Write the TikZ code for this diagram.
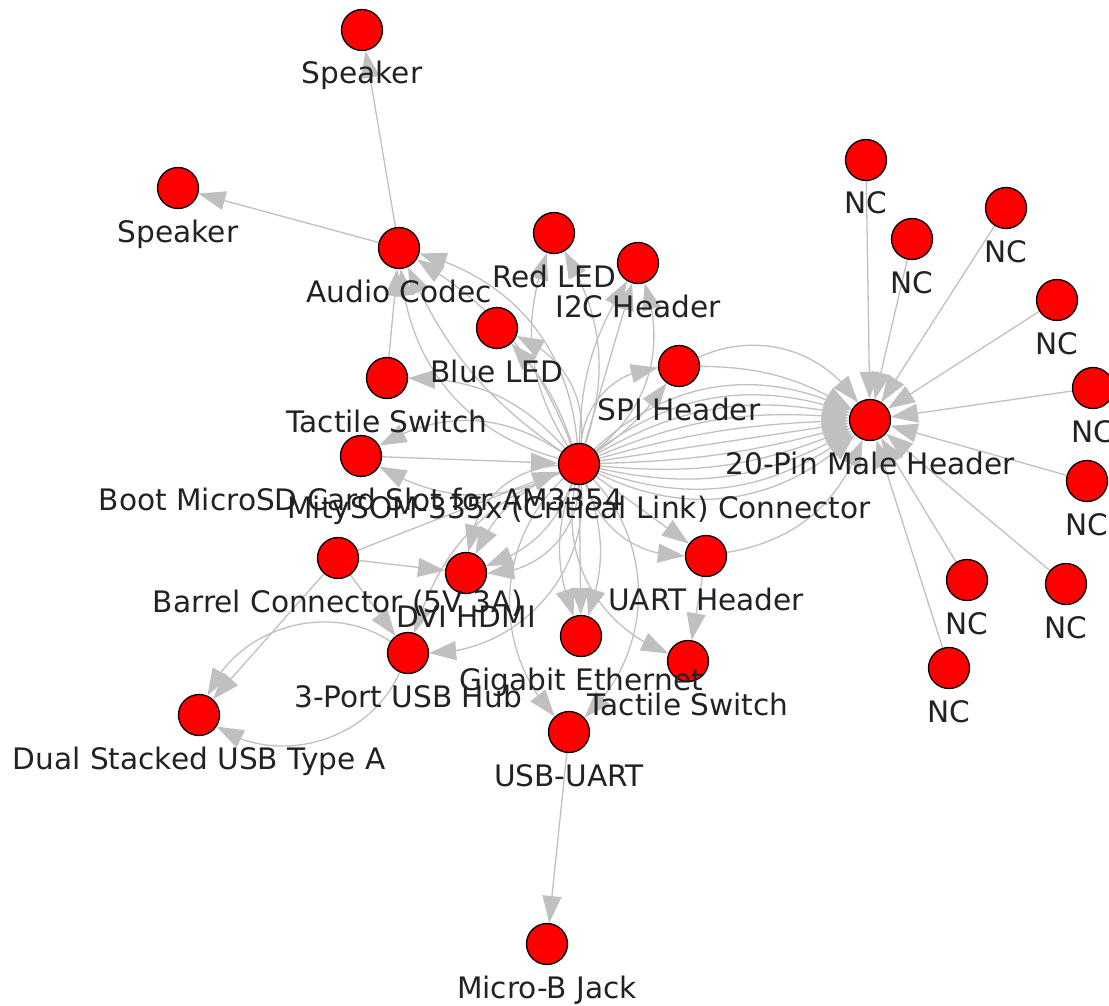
\documentclass[tikz,border=0pt]{standalone}
\usepackage{fontspec}
\setmainfont{DejaVu Sans}
\usetikzlibrary{arrows.meta,bending,calc}
\pgfdeclarelayer{bg}
\pgfsetlayers{bg,main}
\definecolor{edgegray}{RGB}{192,192,192}
\definecolor{txtgray}{RGB}{34,34,34}
\begin{document}
\begin{tikzpicture}[x=1pt,y=-1pt,
  vtx/.style={circle,draw=black,fill=red,line width=1.3pt,minimum size=41pt,inner sep=0pt},
  lbl/.style={font=\fontsize{29.6}{35}\selectfont,text=txtgray,inner sep=0pt,anchor=base},
  lnk/.style={draw=edgegray,line width=1.3pt,-{Triangle[length=27pt,width=19pt]}},
  ]
\useasboundingbox (0,0) rectangle (1109,1006);
% nodes
\node[vtx] (SpkT) at (362,30) {};
\node[vtx] (SpkL) at (178,188) {};
\node[vtx] (AC) at (399,248) {};
\node[vtx] (RL) at (554,233) {};
\node[vtx] (I2C) at (638,263) {};
\node[vtx] (BL) at (497,328) {};
\node[vtx] (TS1) at (387,378) {};
\node[vtx] (SPI) at (679,366) {};
\node[vtx] (Boot) at (361,456) {};
\node[vtx] (M) at (579,464) {};
\node[vtx] (P20) at (870,420) {};
\node[vtx] (Bar) at (338,558) {};
\node[vtx] (DVI) at (466,573) {};
\node[vtx] (UART) at (706,556) {};
\node[vtx] (Gig) at (581,636) {};
\node[vtx] (TS2) at (688,661) {};
\node[vtx] (Hub) at (408,653) {};
\node[vtx] (Dual) at (199,715) {};
\node[vtx] (UU) at (569,732) {};
\node[vtx] (MB) at (547,944) {};
\node[vtx] (NC1) at (866,160) {};
\node[vtx] (NC2) at (912,239) {};
\node[vtx] (NC3) at (1006,208) {};
\node[vtx] (NC4) at (1057,300) {};
\node[vtx] (NC5) at (1093,388) {};
\node[vtx] (NC6) at (1087,481) {};
\node[vtx] (NC7) at (967,580) {};
\node[vtx] (NC8) at (1066,584) {};
\node[vtx] (NC9) at (949,668) {};
% edges
\begin{pgfonlayer}{bg}
\draw[lnk] (AC) -- (SpkT);
\draw[lnk] (AC) -- (SpkL);
\draw[lnk] (TS1) -- (AC);
\draw[lnk] (M) to[bend right=35] (AC);
\draw[lnk] (M) to[bend right=18] (AC);
\draw[lnk] (M) to[bend left=15] (AC);
\draw[lnk] (M) to[bend left=35] (AC);
\draw[lnk] (M) to[bend right=24] (RL);
\draw[lnk] (M) to[bend left=26] (RL);
\draw[lnk] (M) to[bend left=15] (I2C);
\draw[lnk] (M) to (I2C);
\draw[lnk] (M) to[bend right=35] (I2C);
\draw[lnk] (M) to[bend right=37] (BL);
\draw[lnk] (M) to[bend right=12] (BL);
\draw[lnk] (M) to[bend right=24] (TS1);
\draw[lnk] (M) to[bend right=32] (Boot);
\draw[lnk] (M) to[bend left=28] (Boot);
\draw[lnk] (Boot) -- (M);
\draw[lnk] (M) to[bend left=40] (SPI);
\draw[lnk] (M) to[bend right=10] (SPI);
\draw[lnk] (M) to (P20);
\draw[lnk] (M) to[bend left=7] (P20);
\draw[lnk] (M) to[bend left=14] (P20);
\draw[lnk] (M) to[bend left=21] (P20);
\draw[lnk] (M) to[bend left=28] (P20);
\draw[lnk] (M) to[bend left=35] (P20);
\draw[lnk] (M) to[bend right=7] (P20);
\draw[lnk] (M) to[bend right=14] (P20);
\draw[lnk] (M) to[bend right=21] (P20);
\draw[lnk] (M) to[bend right=28] (P20);
\draw[lnk] (M) to[bend right=35] (P20);
\draw[lnk] (SPI) to[bend left=40] (P20);
\draw[lnk] (SPI) to[bend left=15] (P20);
\draw[lnk] (UART) to[bend right=30] (P20);
\draw[lnk] (M) -- (UART);
\draw[lnk] (M) to[bend right=36] (UART);
\draw[lnk] (UART) -- (TS2);
\draw[lnk] (M) to[bend right=40] (TS2);
\draw[lnk] (M) to[bend right=20] (Gig);
\draw[lnk] (M) -- (Gig);
\draw[lnk] (M) to[bend left=20] (Gig);
\draw[lnk] (M) to[bend right=45] (UU);
\draw[lnk] (M) to[bend left=45] (UU);
\draw[lnk] (M) to[bend right=40] (DVI);
\draw[lnk] (M) to[bend right=20] (DVI);
\draw[lnk] (M) to[bend left=25] (DVI);
\draw[lnk] (M) to[bend left=45] (DVI);
\draw[lnk] (M) to[bend left=48] (Hub);
\draw[lnk] (M) to[bend right=25] (Hub);
\draw[lnk] (Bar) -- (M);
\draw[lnk] (Bar) -- (DVI);
\draw[lnk] (Bar) -- (Hub);
\draw[lnk] (Bar) -- (Dual);
\draw[lnk] (Hub) to[bend left=50] (Dual);
\draw[lnk] (Hub) to[bend right=50] (Dual);
\draw[lnk] (UU) -- (MB);
\foreach \n in {NC1,NC2,NC3,NC4,NC5,NC6,NC7,NC8,NC9}
  \draw[lnk] (\n) -- (P20);
\end{pgfonlayer}
% labels
\node[lbl] (lSpkT) at ($(SpkT)+(0,54)$) {Speaker};
\node[lbl] (lSpkL) at ($(SpkL)+(0,54)$) {Speaker};
\node[lbl] (lAC) at ($(AC)+(0,54)$) {Audio Codec};
\node[lbl] (lRL) at ($(RL)+(0,54)$) {Red LED};
\node[lbl] (lI2C) at ($(I2C)+(0,54)$) {I2C Header};
\node[lbl] (lBL) at ($(BL)+(0,54)$) {Blue LED};
\node[lbl] (lTS1) at ($(TS1)+(0,54)$) {Tactile Switch};
\node[lbl] (lSPI) at ($(SPI)+(0,54)$) {SPI Header};
\node[lbl] (lBoot) at ($(Boot)+(0,54)$) {Boot MicroSD Card Slot for AM3354};
\node[lbl] (lM) at ($(M)+(0,54)$) {MitySOM-335x (Critical Link) Connector};
\node[lbl] (lP20) at ($(P20)+(0,54)$) {20-Pin Male Header};
\node[lbl] (lBar) at ($(Bar)+(0,54)$) {Barrel Connector (5V 3A)};
\node[lbl] (lDVI) at ($(DVI)+(0,54)$) {DVI HDMI};
\node[lbl] (lUART) at ($(UART)+(0,54)$) {UART Header};
\node[lbl] (lGig) at ($(Gig)+(0,54)$) {Gigabit Ethernet};
\node[lbl] (lTS2) at ($(TS2)+(0,54)$) {Tactile Switch};
\node[lbl] (lHub) at ($(Hub)+(0,54)$) {3-Port USB Hub};
\node[lbl] (lDual) at ($(Dual)+(0,54)$) {Dual Stacked USB Type A};
\node[lbl] (lUU) at ($(UU)+(0,54)$) {USB-UART};
\node[lbl] (lMB) at ($(MB)+(0,54)$) {Micro-B Jack};
\foreach \n in {NC1,NC2,NC3,NC4,NC5,NC6,NC7,NC8,NC9}
  \node[lbl] (l\n) at ($(\n)+(0,54)$) {NC};
\end{tikzpicture}
\end{document}
